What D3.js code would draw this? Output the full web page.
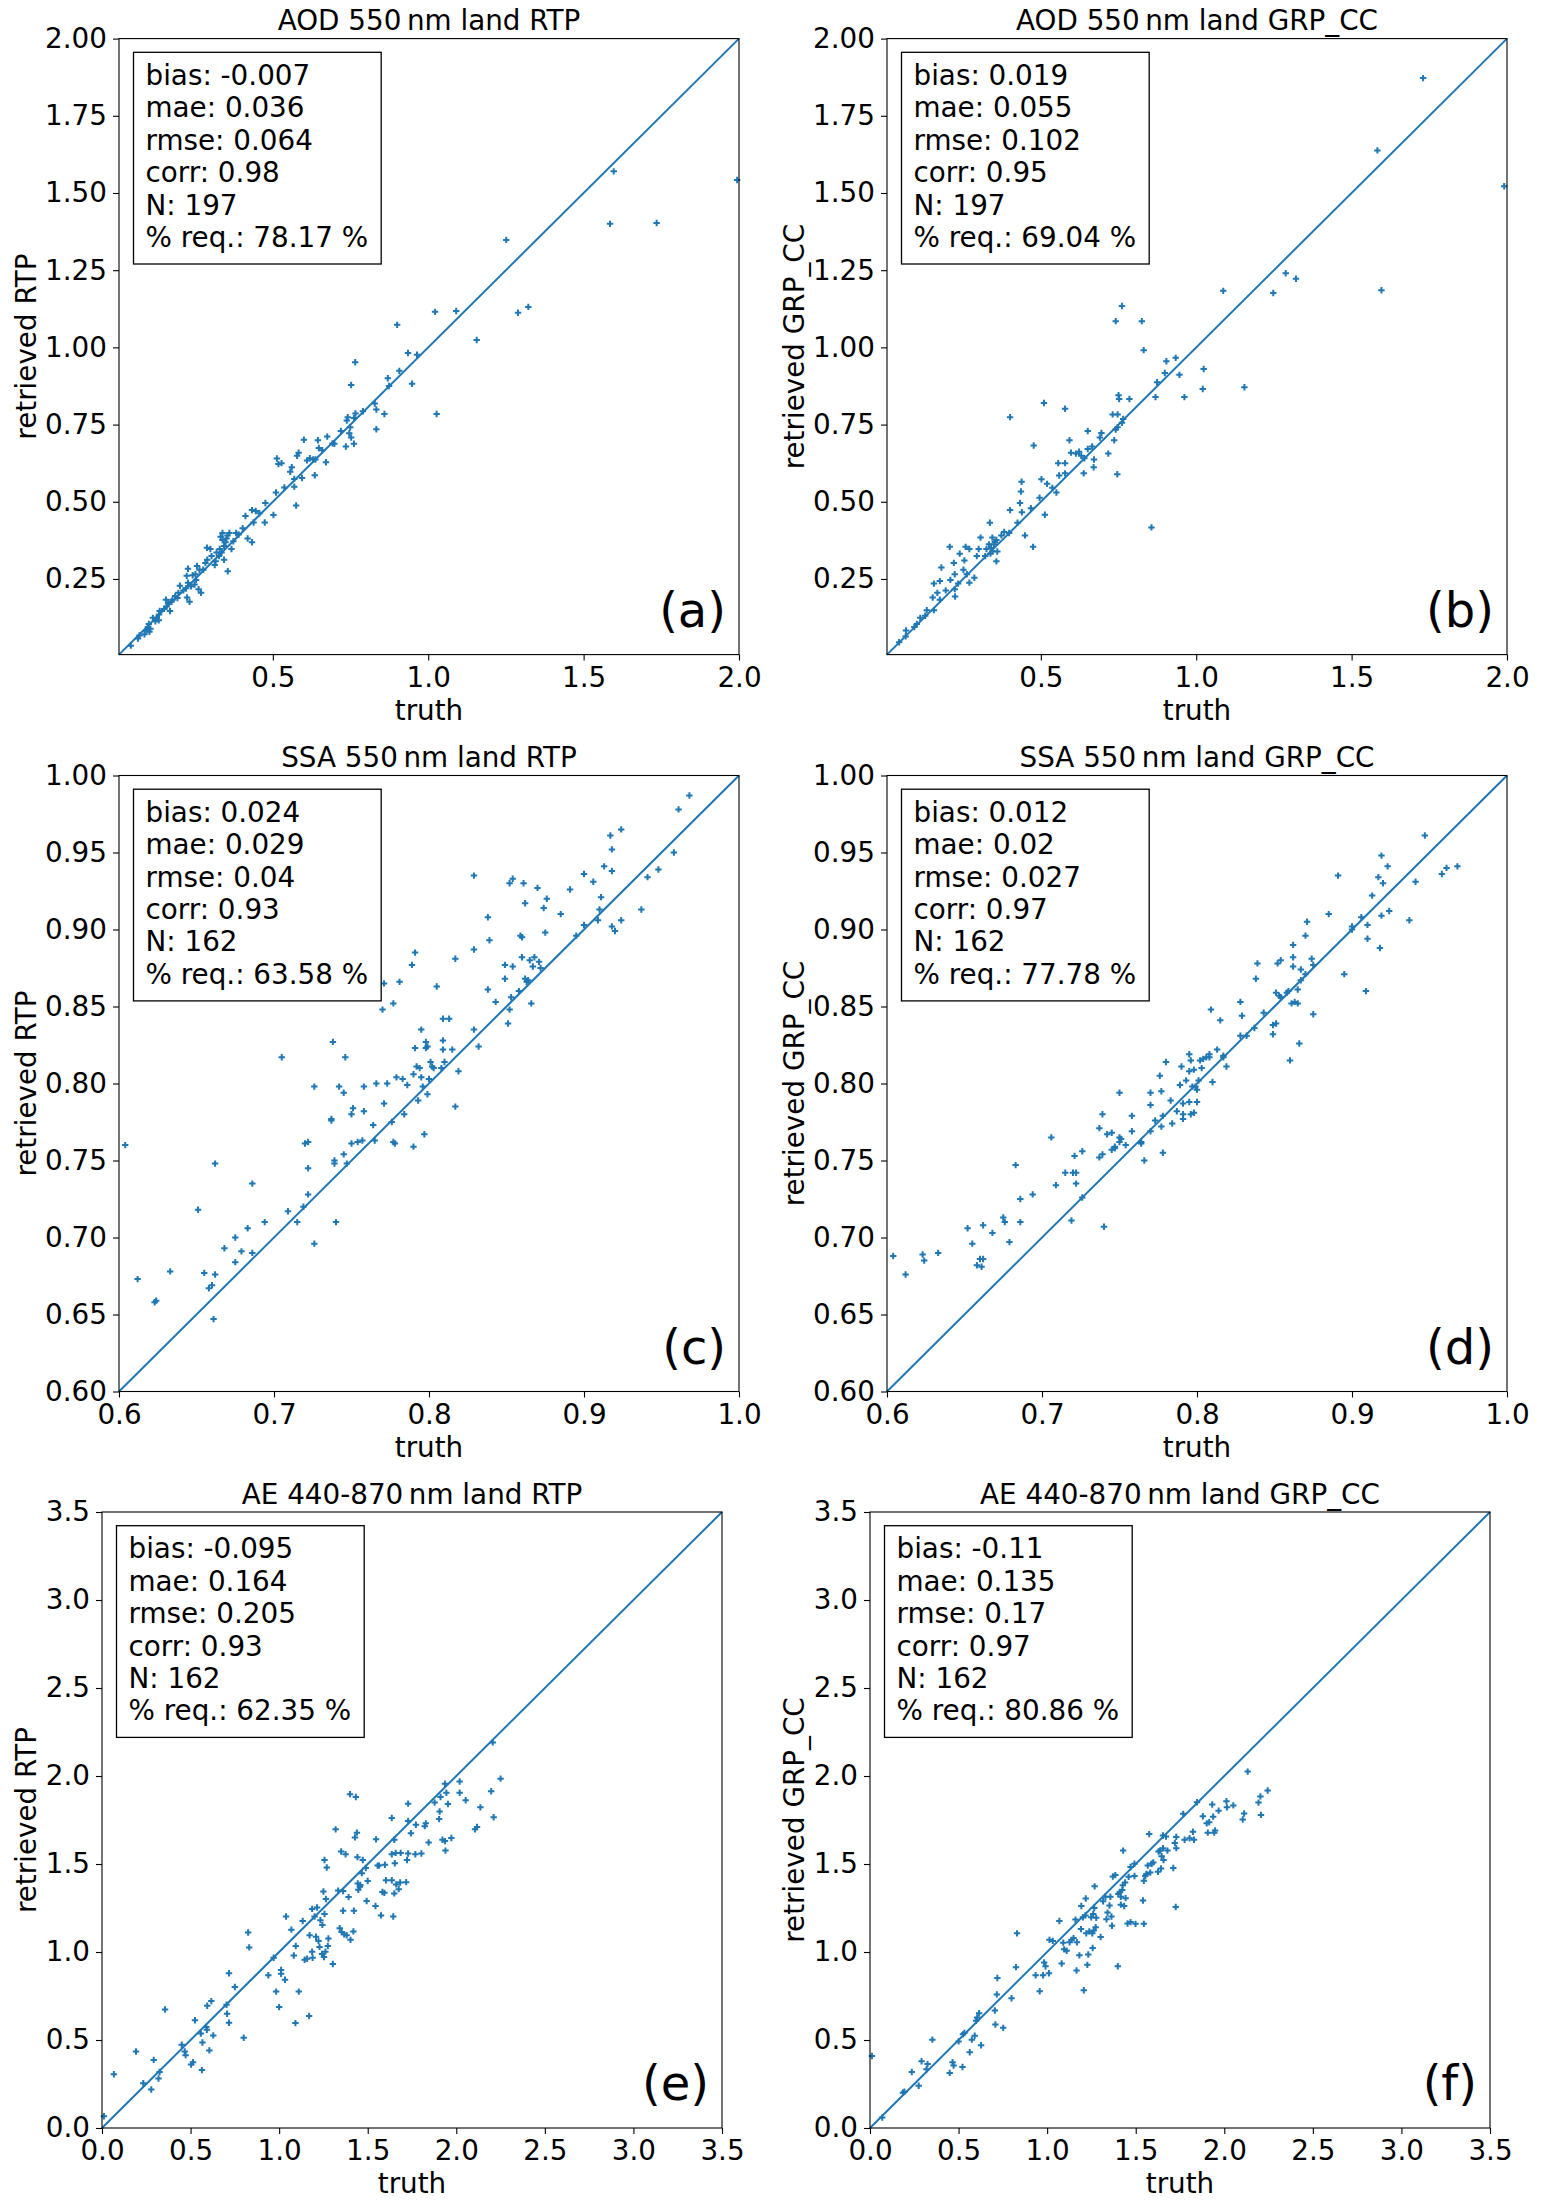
<!DOCTYPE html>
<html lang="en">
<head>
	<meta charset="utf-8">
	<title>Retrieved vs truth, land</title>
	<script src="https://d3js.org/d3.v7.min.js" charset="utf-8"></script>
	<style>
		body { margin: 0; background: #fff; }
		text { font-family: "DejaVu Sans", sans-serif; }
	</style>
</head>
<body>
<script>

	var width = 1541, height = 2203

	// tick values
	var aodTicksX = [0.5, 1.0, 1.5, 2.0]
	var aodTicksY = [0.25, 0.50, 0.75, 1.00, 1.25, 1.50, 1.75, 2.00]
	var ssaTicksX = [0.6, 0.7, 0.8, 0.9, 1.0]
	var ssaTicksY = [0.60, 0.65, 0.70, 0.75, 0.80, 0.85, 0.90, 0.95, 1.00]
	var aeTicks = [0.0, 0.5, 1.0, 1.5, 2.0, 2.5, 3.0, 3.5]

	// titles, labels, stats
	var titles = ["AOD 550\u2009nm land RTP", "AOD 550\u2009nm land GRP_CC",
	              "SSA 550\u2009nm land RTP", "SSA 550\u2009nm land GRP_CC",
	              "AE 440-870\u2009nm land RTP", "AE 440-870\u2009nm land GRP_CC"]
	var yLabels = ["retrieved RTP", "retrieved GRP_CC"]
	var tags = ["(a)", "(b)", "(c)", "(d)", "(e)", "(f)"]

	var aodRtpStats = ["bias: -0.007", "mae: 0.036", "rmse: 0.064", "corr: 0.98", "N: 197", "% req.: 78.17 %"]
	var aodGrpStats = ["bias: 0.019", "mae: 0.055", "rmse: 0.102", "corr: 0.95", "N: 197", "% req.: 69.04 %"]
	var ssaRtpStats = ["bias: 0.024", "mae: 0.029", "rmse: 0.04", "corr: 0.93", "N: 162", "% req.: 63.58 %"]
	var ssaGrpStats = ["bias: 0.012", "mae: 0.02", "rmse: 0.027", "corr: 0.97", "N: 162", "% req.: 77.78 %"]
	var aeRtpStats = ["bias: -0.095", "mae: 0.164", "rmse: 0.205", "corr: 0.93", "N: 162", "% req.: 62.35 %"]
	var aeGrpStats = ["bias: -0.11", "mae: 0.135", "rmse: 0.17", "corr: 0.97", "N: 162", "% req.: 80.86 %"]

	// [truth, retrieved] pairs
	var aodRtp = [[1.597,1.570],[1.585,1.400],[1.735,1.403],[1.994,1.542],[1.251,1.348],[1.289,1.112],[1.322,1.131],
		[1.156,1.024],[1.022,1.115],[1.090,1.118],[1.027,0.784],[0.900,1.073],[0.765,0.952],[0.752,0.878],[0.935,0.982],
		[0.964,0.976],[0.907,0.924],[0.870,0.900],[0.874,0.875],[0.948,0.882],[0.828,0.818],[0.833,0.799],[0.859,0.784],
		[0.833,0.735],[0.790,0.793],[0.766,0.786],[0.761,0.771],[0.741,0.774],[0.738,0.763],[0.749,0.741],[0.746,0.722],
		[0.752,0.708],[0.761,0.688],[0.735,0.679],[0.719,0.729],[0.698,0.688],[0.692,0.689],[0.675,0.711],[0.645,0.699],
		[0.648,0.674],[0.659,0.667],[0.671,0.628],[0.600,0.701],[0.583,0.659],[0.578,0.649],[0.619,0.641],[0.630,0.637],
		[0.637,0.637],[0.610,0.634],[0.635,0.586],[0.594,0.577],[0.569,0.574],[0.561,0.612],[0.556,0.597],[0.575,0.488],
		[0.569,0.549],[0.537,0.546],[0.513,0.640],[0.518,0.622],[0.528,0.625],[0.510,0.530],[0.502,0.457],[0.476,0.496],
		[0.474,0.433],[0.457,0.463],[0.445,0.470],[0.433,0.473],[0.438,0.433],[0.433,0.369],[0.412,0.454],[0.419,0.381],
		[0.403,0.414],[0.390,0.394],[0.382,0.399],[0.373,0.372],[0.360,0.399],[0.354,0.391],[0.351,0.381],[0.338,0.399],
		[0.338,0.376],[0.343,0.357],[0.355,0.275],[0.329,0.347],[0.335,0.336],[0.343,0.312],[0.327,0.324],[0.319,0.336],
		[0.316,0.307],[0.303,0.324],[0.299,0.347],[0.289,0.312],[0.283,0.302],[0.276,0.280],[0.264,0.280],[0.256,0.292],
		[0.253,0.247],[0.242,0.262],[0.248,0.232],[0.261,0.217],[0.269,0.205],[0.227,0.283],[0.223,0.260],[0.227,0.238],
		[0.221,0.220],[0.224,0.190],[0.232,0.176],[0.212,0.213],[0.201,0.228],[0.196,0.205],[0.186,0.195],[0.177,0.183],
		[0.174,0.176],[0.163,0.171],[0.156,0.183],[0.158,0.161],[0.150,0.153],[0.136,0.146],[0.134,0.135],[0.126,0.124],
		[0.122,0.113],[0.114,0.124],[0.101,0.104],[0.098,0.094],[0.093,0.083],[0.103,0.079],[0.071,0.067],[0.066,0.057],
		[0.043,0.034],[0.087,0.071],[0.106,0.089],[0.133,0.116],[0.169,0.146],[0.193,0.188],[0.332,0.387],[0.367,0.347],
		[0.348,0.369],[0.288,0.351],[0.313,0.295],[0.251,0.265],[0.237,0.226]]

	var aodGrp = [[1.730,1.872],[1.583,1.638],[1.991,1.522],[1.596,1.185],[1.288,1.240],[1.321,1.222],[1.248,1.176],
		[1.087,1.183],[1.155,0.871],[1.021,0.865],[1.024,0.930],[0.962,0.839],[0.946,0.911],[0.934,0.966],[0.904,0.955],
		[0.899,0.917],[0.874,0.887],[0.869,0.839],[0.856,0.417],[0.761,1.134],[0.741,1.085],[0.825,1.085],[0.831,0.991],
		[0.750,0.845],[0.785,0.833],[0.752,0.833],[0.731,0.783],[0.747,0.783],[0.765,0.768],[0.761,0.756],[0.741,0.734],
		[0.747,0.741],[0.736,0.699],[0.717,0.656],[0.746,0.589],[0.695,0.723],[0.690,0.708],[0.651,0.729],[0.665,0.679],
		[0.651,0.671],[0.640,0.641],[0.670,0.612],[0.671,0.637],[0.630,0.649],[0.623,0.662],[0.597,0.659],[0.613,0.656],
		[0.592,0.699],[0.638,0.592],[0.578,0.801],[0.510,0.820],[0.401,0.774],[0.477,0.682],[0.556,0.625],[0.578,0.625],
		[0.559,0.585],[0.578,0.592],[0.550,0.530],[0.537,0.545],[0.520,0.558],[0.502,0.573],[0.496,0.513],[0.513,0.458],
		[0.468,0.479],[0.475,0.354],[0.438,0.565],[0.436,0.533],[0.433,0.496],[0.439,0.466],[0.449,0.391],[0.425,0.432],
		[0.401,0.473],[0.398,0.399],[0.382,0.402],[0.373,0.391],[0.357,0.376],[0.336,0.432],[0.344,0.384],[0.333,0.362],
		[0.325,0.347],[0.338,0.332],[0.321,0.324],[0.357,0.307],[0.306,0.384],[0.300,0.347],[0.294,0.324],[0.286,0.254],
		[0.270,0.347],[0.258,0.354],[0.254,0.310],[0.239,0.332],[0.251,0.280],[0.207,0.354],[0.220,0.302],[0.223,0.265],
		[0.234,0.235],[0.223,0.217],[0.224,0.193],[0.209,0.247],[0.180,0.287],[0.175,0.243],[0.156,0.235],[0.152,0.190],
		[0.167,0.205],[0.156,0.149],[0.133,0.149],[0.128,0.131],[0.112,0.124],[0.101,0.104],[0.093,0.094],[0.066,0.083],
		[0.065,0.064],[0.044,0.045],[0.175,0.183],[0.194,0.213],[0.262,0.265],[0.270,0.238],[0.349,0.362],[0.360,0.339],
		[0.340,0.350],[0.345,0.340],[0.352,0.370]]

	var ssaRtp = [[0.604,0.760],[0.612,0.673],[0.623,0.658],[0.624,0.659],[0.633,0.678],[0.651,0.718],[0.655,0.677],
		[0.658,0.667],[0.660,0.669],[0.661,0.647],[0.662,0.676],[0.662,0.748],[0.668,0.693],[0.675,0.700],[0.675,0.684],
		[0.679,0.691],[0.683,0.706],[0.686,0.690],[0.686,0.735],[0.694,0.710],[0.705,0.817],[0.709,0.717],[0.715,0.710],
		[0.719,0.720],[0.720,0.761],[0.722,0.762],[0.722,0.745],[0.722,0.728],[0.726,0.798],[0.726,0.696],[0.738,0.827],
		[0.737,0.776],[0.737,0.777],[0.739,0.750],[0.739,0.748],[0.740,0.710],[0.742,0.798],[0.745,0.794],[0.745,0.754],
		[0.746,0.817],[0.747,0.748],[0.750,0.780],[0.751,0.784],[0.750,0.761],[0.754,0.762],[0.757,0.763],[0.758,0.782],
		[0.758,0.798],[0.764,0.773],[0.765,0.763],[0.766,0.800],[0.770,0.848],[0.771,0.865],[0.771,0.787],[0.773,0.800],
		[0.776,0.775],[0.777,0.852],[0.777,0.762],[0.778,0.761],[0.779,0.804],[0.781,0.866],[0.783,0.803],[0.784,0.780],
		[0.786,0.799],[0.789,0.877],[0.791,0.885],[0.790,0.759],[0.790,0.806],[0.791,0.823],[0.792,0.811],[0.793,0.789],
		[0.795,0.835],[0.794,0.810],[0.795,0.804],[0.796,0.798],[0.797,0.767],[0.798,0.827],[0.798,0.823],[0.799,0.824],
		[0.799,0.793],[0.800,0.803],[0.801,0.814],[0.802,0.811],[0.803,0.810],[0.805,0.863],[0.808,0.810],[0.809,0.842],
		[0.809,0.828],[0.809,0.822],[0.810,0.814],[0.813,0.842],[0.815,0.822],[0.817,0.881],[0.817,0.785],[0.819,0.808],
		[0.829,0.835],[0.829,0.935],[0.829,0.887],[0.832,0.824],[0.838,0.908],[0.838,0.861],[0.839,0.893],[0.843,0.853],
		[0.849,0.877],[0.849,0.868],[0.851,0.839],[0.852,0.848],[0.852,0.930],[0.854,0.876],[0.853,0.856],[0.854,0.933],
		[0.858,0.860],[0.859,0.896],[0.860,0.895],[0.860,0.882],[0.861,0.930],[0.862,0.917],[0.862,0.868],[0.863,0.866],
		[0.864,0.867],[0.865,0.880],[0.866,0.852],[0.867,0.876],[0.868,0.882],[0.870,0.927],[0.871,0.879],[0.872,0.875],
		[0.874,0.914],[0.875,0.898],[0.876,0.920],[0.885,0.910],[0.891,0.926],[0.895,0.896],[0.900,0.936],[0.900,0.903],
		[0.906,0.931],[0.909,0.906],[0.910,0.913],[0.911,0.921],[0.913,0.941],[0.917,0.961],[0.918,0.902],[0.918,0.952],
		[0.918,0.938],[0.920,0.899],[0.924,0.965],[0.924,0.906],[0.937,0.913],[0.941,0.934],[0.948,0.939],[0.958,0.950],
		[0.961,0.978],[0.968,0.987]]

	var ssaGrp = [[0.604,0.688],[0.612,0.676],[0.623,0.689],[0.624,0.685],[0.633,0.690],[0.652,0.706],[0.655,0.696],
		[0.658,0.682],[0.660,0.686],[0.661,0.681],[0.662,0.686],[0.662,0.708],[0.668,0.703],[0.675,0.713],[0.676,0.710],
		[0.679,0.697],[0.683,0.747],[0.686,0.710],[0.686,0.725],[0.694,0.728],[0.706,0.765],[0.709,0.734],[0.715,0.742],
		[0.719,0.711],[0.720,0.742],[0.721,0.753],[0.722,0.735],[0.722,0.742],[0.726,0.756],[0.726,0.726],[0.737,0.771],
		[0.737,0.752],[0.739,0.754],[0.739,0.780],[0.740,0.707],[0.742,0.767],[0.745,0.768],[0.745,0.757],[0.747,0.758],
		[0.747,0.759],[0.750,0.794],[0.750,0.765],[0.751,0.764],[0.750,0.762],[0.754,0.760],[0.758,0.779],[0.758,0.769],
		[0.764,0.762],[0.764,0.761],[0.766,0.750],[0.770,0.786],[0.770,0.794],[0.770,0.769],[0.773,0.776],[0.776,0.805],
		[0.777,0.795],[0.777,0.772],[0.778,0.755],[0.778,0.779],[0.780,0.814],[0.783,0.789],[0.784,0.774],[0.787,0.782],
		[0.789,0.799],[0.790,0.811],[0.791,0.777],[0.791,0.780],[0.791,0.787],[0.793,0.802],[0.795,0.819],[0.795,0.808],
		[0.795,0.788],[0.796,0.815],[0.797,0.798],[0.796,0.780],[0.798,0.809],[0.798,0.781],[0.799,0.798],[0.800,0.796],
		[0.800,0.788],[0.801,0.802],[0.802,0.815],[0.803,0.810],[0.804,0.816],[0.806,0.817],[0.808,0.817],[0.808,0.819],
		[0.809,0.848],[0.810,0.801],[0.813,0.822],[0.815,0.841],[0.817,0.818],[0.817,0.817],[0.819,0.811],[0.828,0.853],
		[0.828,0.831],[0.829,0.844],[0.832,0.831],[0.837,0.836],[0.838,0.868],[0.839,0.878],[0.843,0.846],[0.849,0.832],
		[0.849,0.838],[0.851,0.839],[0.852,0.878],[0.851,0.859],[0.853,0.857],[0.854,0.880],[0.854,0.856],[0.858,0.859],
		[0.859,0.860],[0.860,0.815],[0.861,0.852],[0.862,0.890],[0.862,0.882],[0.862,0.876],[0.863,0.853],[0.865,0.861],
		[0.865,0.852],[0.866,0.826],[0.867,0.867],[0.867,0.874],[0.870,0.871],[0.870,0.896],[0.871,0.905],[0.874,0.881],
		[0.875,0.845],[0.875,0.877],[0.885,0.910],[0.891,0.935],[0.895,0.871],[0.900,0.902],[0.900,0.900],[0.906,0.908],
		[0.909,0.860],[0.910,0.903],[0.910,0.894],[0.913,0.922],[0.917,0.934],[0.918,0.888],[0.919,0.909],[0.919,0.948],
		[0.920,0.930],[0.923,0.941],[0.924,0.912],[0.937,0.906],[0.941,0.931],[0.947,0.961],[0.958,0.936],[0.961,0.940],
		[0.968,0.941]]

	var aeRtp = [[0.011,0.067],[0.067,0.305],[0.192,0.435],[0.233,0.254],[0.278,0.219],[0.292,0.387],[0.319,0.281],
		[0.325,0.318],[0.356,0.673],[0.450,0.473],[0.467,0.435],[0.472,0.414],[0.503,0.361],[0.514,0.374],[0.525,0.612],
		[0.558,0.537],[0.564,0.329],[0.567,0.486],[0.589,0.574],[0.592,0.558],[0.594,0.695],[0.606,0.441],[0.617,0.721],
		[0.628,0.526],[0.703,0.700],[0.706,0.649],[0.717,0.598],[0.717,0.879],[0.750,0.801],[0.800,0.513],[0.825,1.111],
		[0.831,1.026],[0.939,0.868],[0.969,0.967],[0.983,0.775],[1.000,0.687],[1.011,0.898],[1.011,0.876],[1.033,0.842],
		[1.039,1.202],[1.069,1.127],[1.083,0.980],[1.092,0.596],[1.094,1.034],[1.111,0.775],[1.133,1.176],[1.144,0.956],
		[1.158,0.962],[1.169,0.636],[1.172,1.095],[1.186,1.002],[1.189,0.967],[1.186,1.245],[1.200,1.202],[1.208,1.087],
		[1.214,1.253],[1.222,1.063],[1.228,1.029],[1.233,1.181],[1.242,0.989],[1.244,1.154],[1.250,1.344],[1.253,0.972],
		[1.256,1.216],[1.256,1.523],[1.261,1.002],[1.264,1.301],[1.269,1.480],[1.275,1.034],[1.278,1.077],[1.303,0.932],
		[1.319,1.697],[1.333,1.349],[1.342,1.135],[1.350,1.571],[1.353,1.114],[1.361,1.234],[1.361,1.347],[1.367,1.101],
		[1.375,1.555],[1.381,1.095],[1.392,1.312],[1.400,1.897],[1.403,1.069],[1.419,1.117],[1.422,1.234],[1.428,1.651],
		[1.433,1.881],[1.439,1.678],[1.442,1.539],[1.444,1.389],[1.447,1.354],[1.456,1.371],[1.467,1.448],[1.472,1.523],
		[1.458,1.381],[1.489,1.477],[1.494,1.290],[1.500,1.403],[1.544,1.261],[1.547,1.640],[1.556,1.491],[1.564,1.491],
		[1.575,1.208],[1.583,1.341],[1.594,1.336],[1.597,1.496],[1.603,1.408],[1.636,1.761],[1.636,1.408],[1.636,1.555],
		[1.644,1.202],[1.650,1.638],[1.650,1.333],[1.653,1.504],[1.658,1.563],[1.661,1.384],[1.675,1.357],[1.683,1.395],
		[1.686,1.563],[1.717,1.397],[1.722,1.523],[1.728,1.745],[1.728,1.843],[1.728,1.560],[1.744,1.675],[1.769,1.555],
		[1.772,1.723],[1.803,1.560],[1.822,1.715],[1.828,1.731],[1.844,1.622],[1.878,1.849],[1.903,1.755],[1.906,1.798],
		[1.911,1.881],[1.922,1.638],[1.936,1.956],[1.936,1.630],[1.939,1.576],[1.944,1.905],[1.953,1.841],[1.972,1.648],
		[2.019,1.969],[2.019,1.905],[2.053,1.862],[2.106,1.697],[2.117,1.710],[2.136,1.822],[2.197,1.913],[2.206,2.191],
		[2.211,1.766],[2.250,1.985]]

	var aeGrp = [[0.011,0.409],[0.069,0.059],[0.186,0.200],[0.194,0.206],[0.236,0.318],[0.275,0.240],[0.291,0.379],
		[0.319,0.334],[0.325,0.363],[0.352,0.502],[0.450,0.313],[0.466,0.374],[0.472,0.355],[0.500,0.492],[0.522,0.347],
		[0.525,0.532],[0.533,0.540],[0.563,0.430],[0.575,0.502],[0.591,0.524],[0.599,0.609],[0.605,0.628],[0.616,0.652],
		[0.627,0.470],[0.705,0.668],[0.708,0.588],[0.716,0.759],[0.719,0.852],[0.752,0.569],[0.799,0.737],[0.824,0.914],
		[0.830,1.106],[0.935,0.868],[0.958,0.777],[0.977,0.868],[0.983,0.940],[0.991,0.919],[1.010,0.879],[1.013,1.069],
		[1.032,1.063],[1.069,1.176],[1.082,0.935],[1.091,1.053],[1.096,1.015],[1.110,1.007],[1.127,1.055],[1.138,1.069],
		[1.149,1.079],[1.160,1.184],[1.166,0.895],[1.168,1.055],[1.182,0.981],[1.191,1.130],[1.193,1.261],[1.202,1.197],
		[1.207,0.783],[1.216,1.208],[1.218,1.304],[1.221,1.106],[1.227,0.927],[1.232,0.986],[1.238,1.117],[1.249,1.197],
		[1.255,1.106],[1.257,1.023],[1.260,1.216],[1.263,1.122],[1.266,1.250],[1.268,1.373],[1.277,1.194],[1.274,1.141],
		[1.302,1.085],[1.316,1.288],[1.329,1.314],[1.335,1.186],[1.341,1.224],[1.352,1.264],[1.357,1.314],[1.363,1.202],
		[1.366,1.149],[1.371,1.429],[1.385,1.437],[1.399,0.919],[1.402,1.330],[1.410,1.341],[1.416,1.314],[1.416,1.269],
		[1.424,1.352],[1.427,1.379],[1.429,1.576],[1.435,1.261],[1.440,1.395],[1.443,1.306],[1.454,1.162],[1.460,1.427],
		[1.471,1.483],[1.471,1.170],[1.493,1.501],[1.493,1.432],[1.499,1.160],[1.541,1.293],[1.546,1.160],[1.546,1.405],
		[1.554,1.432],[1.560,1.443],[1.568,1.491],[1.576,1.670],[1.582,1.451],[1.590,1.501],[1.599,1.509],[1.626,1.456],
		[1.629,1.571],[1.637,1.576],[1.643,1.475],[1.646,1.544],[1.654,1.662],[1.654,1.590],[1.657,1.523],[1.671,1.656],
		[1.679,1.576],[1.712,1.477],[1.721,1.619],[1.726,1.256],[1.729,1.654],[1.729,1.590],[1.768,1.785],[1.776,1.638],
		[1.804,1.646],[1.823,1.683],[1.829,1.638],[1.846,1.851],[1.879,1.771],[1.901,1.731],[1.907,1.678],[1.915,1.737],
		[1.932,1.838],[1.937,1.769],[1.943,1.678],[1.948,1.691],[1.968,1.803],[2.012,1.857],[2.015,1.822],[2.051,1.833],
		[2.104,1.753],[2.112,1.787],[2.132,2.025],[2.193,1.849],[2.204,1.884],[2.207,1.779],[2.245,1.918]]

	// layout
	var pw = 620, ph = 616
	var blue = "#1f77b4"
	var fs = 27.8

	var svg = d3.select("body").append("svg")
		.attr("width", width)
		.attr("height", height)

	svg.append("rect").attr("width", width).attr("height", height).attr("fill", "#fff")

	var f1 = d3.format(".1f"), f2 = d3.format(".2f")

	// ylab = distance of the rotated y label baseline from the left spine
	var panels = [
		{left: 119, top: 38.6, ylab: 83, data: aodRtp, stats: aodRtpStats, dom: [0.005, 2.0], xt: aodTicksX, yt: aodTicksY, xf: f1, yf: f2},
		{left: 887, top: 38.6, ylab: 83, data: aodGrp, stats: aodGrpStats, dom: [0.005, 2.0], xt: aodTicksX, yt: aodTicksY, xf: f1, yf: f2},
		{left: 119, top: 775.5, ylab: 83, data: ssaRtp, stats: ssaRtpStats, dom: [0.6, 1.0], xt: ssaTicksX, yt: ssaTicksY, xf: f1, yf: f2},
		{left: 887, top: 775.5, ylab: 83, data: ssaGrp, stats: ssaGrpStats, dom: [0.6, 1.0], xt: ssaTicksX, yt: ssaTicksY, xf: f1, yf: f2},
		{left: 102, top: 1512, ylab: 66, data: aeRtp, stats: aeRtpStats, dom: [0, 3.5], xt: aeTicks, yt: aeTicks, xf: f1, yf: f1},
		{left: 870, top: 1512, ylab: 66, data: aeGrp, stats: aeGrpStats, dom: [0, 3.5], xt: aeTicks, yt: aeTicks, xf: f1, yf: f1}
	]

	panels.forEach(function(p, i) {
		var g = svg.append("g").attr("transform", "translate(" + p.left + "," + p.top + ")")

		var x = d3.scaleLinear().domain(p.dom).range([0, pw])
		var y = d3.scaleLinear().domain(p.dom).range([ph, 0])

		// 1:1 line
		g.append("line")
			.attr("x1", x(p.dom[0])).attr("y1", y(p.dom[0]))
			.attr("x2", x(p.dom[1])).attr("y2", y(p.dom[1]))
			.attr("stroke", blue).attr("stroke-width", 2)

		// plus markers
		g.append("g").selectAll("path")
			.data(p.data)
			.enter().append("path")
			.attr("transform", function(d){ return "translate(" + x(d[0]) + "," + y(d[1]) + ")" })
			.attr("d", "M-3.2,0H3.2M0,-3.2V3.2")
			.attr("stroke", blue).attr("stroke-width", 2)

		// axes
		var xa = g.append("g").attr("transform", "translate(0," + ph + ")")
			.call(d3.axisBottom(x).tickValues(p.xt).tickFormat(p.xf).tickSize(6).tickPadding(6.5))
		var ya = g.append("g")
			.call(d3.axisLeft(y).tickValues(p.yt).tickFormat(p.yf).tickSize(6).tickPadding(6))
		;[xa, ya].forEach(function(a){
			a.attr("font-size", fs).attr("font-family", "DejaVu Sans")
			a.select(".domain").remove()
			a.selectAll("line").attr("stroke", "#000").attr("stroke-width", 1.1)
			a.selectAll("text").attr("fill", "#000")
		})

		g.append("rect").attr("width", pw).attr("height", ph)
			.attr("fill", "none").attr("stroke", "#000").attr("stroke-width", 1.1)

		// labels
		g.append("text").attr("x", pw / 2).attr("y", -8.5)
			.attr("text-anchor", "middle").attr("font-size", fs).text(titles[i])
		g.append("text").attr("x", pw / 2).attr("y", ph + 65)
			.attr("text-anchor", "middle").attr("font-size", fs).text("truth")
		g.append("text").attr("transform", "translate(" + (-p.ylab) + "," + (ph / 2) + ") rotate(-90)")
			.attr("text-anchor", "middle").attr("font-size", fs).text(yLabels[i % 2])
		g.append("text").attr("x", pw - 13).attr("y", ph - 28)
			.attr("text-anchor", "end").attr("font-size", 48).text(tags[i])

		// stats box
		var lg = g.append("g").attr("transform", "translate(14.5,13.7)")
		var box = lg.append("rect")
		var tg = lg.append("g")
		tg.selectAll("text").data(p.stats).enter().append("text")
			.attr("x", 12).attr("y", function(d, k){ return 32.7 + k * 32.4 })
			.attr("font-size", fs).text(function(d){ return d })
		var bb = tg.node().getBBox()
		box.attr("width", bb.width + 25).attr("height", 211.7)
			.attr("fill", "#fff").attr("stroke", "#000").attr("stroke-width", 1.3)
	})

</script>
</body>
</html>
